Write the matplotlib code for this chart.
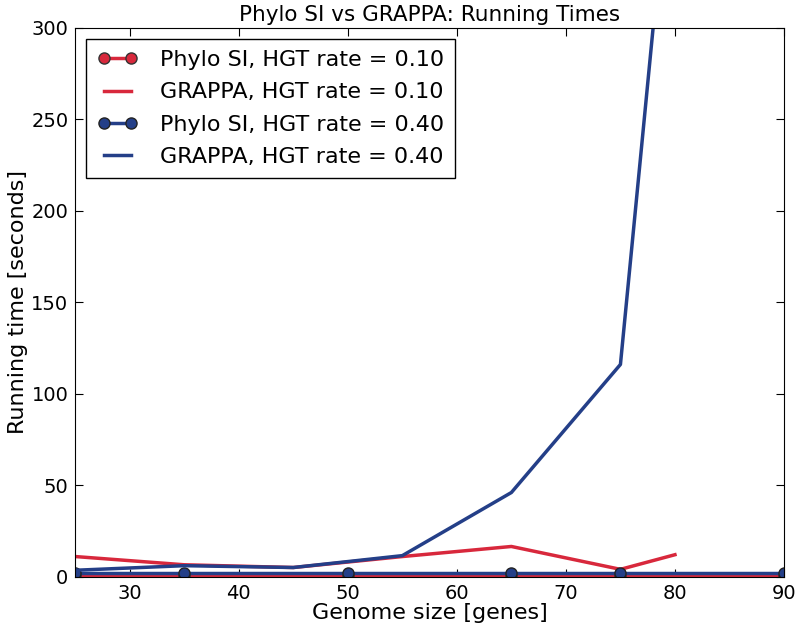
import matplotlib
matplotlib.use("Agg")
import matplotlib.pyplot as plt

RED = "#d8283c"
BLUE = "#243f88"

# Phylo SI running times (seconds)
phylo_x = [25, 35, 50, 65, 75, 90]
phylo_010 = [1.0, 1.0, 1.0, 1.0, 1.0, 1.0]
phylo_040 = [2.0, 2.0, 2.0, 2.0, 2.0, 2.0]

# GRAPPA running times (seconds)
grappa_x_010 = [25, 35, 45, 55, 65, 75, 80]
grappa_010 = [11.0, 6.5, 5.0, 11.0, 16.5, 4.0, 12.0]
grappa_x_040 = [25, 35, 45, 55, 65, 75, 85]
grappa_040 = [3.5, 6.0, 5.0, 11.5, 46.0, 116.0, 730.0]

labels = ["Phylo SI, HGT rate = 0.10", "GRAPPA, HGT rate = 0.10",
          "Phylo SI, HGT rate = 0.40", "GRAPPA, HGT rate = 0.40"]

plt.rcParams["font.family"] = "DejaVu Sans"
plt.rcParams["xtick.direction"] = "in"
plt.rcParams["ytick.direction"] = "in"
plt.rcParams["xtick.top"] = True
plt.rcParams["ytick.right"] = True

fig = plt.figure(figsize=(8, 6.33), dpi=100)
ax = fig.add_axes([0.094, 0.089, 0.886, 0.867])

ax.plot(phylo_x, phylo_010, "-o", color=RED, lw=2.5, ms=8, mec="#333333", label=labels[0])
ax.plot(grappa_x_010, grappa_010, "-", color=RED, lw=2.5, label=labels[1])
ax.plot(phylo_x, phylo_040, "-o", color=BLUE, lw=2.5, ms=8, mec="#222222", label=labels[2])
ax.plot(grappa_x_040, grappa_040, "-", color=BLUE, lw=2.5, label=labels[3])

ax.set_xlim(25, 90)
ax.set_ylim(0, 300)
ax.set_xticks([30, 40, 50, 60, 70, 80, 90])
ax.set_yticks([0, 50, 100, 150, 200, 250, 300])
ax.tick_params(labelsize=14, length=6, width=0.8, pad=5)
ax.set_title("Phylo SI vs GRAPPA: Running Times", fontsize=15.5, pad=5)
ax.set_xlabel("Genome size [genes]", fontsize=16, labelpad=0)
ax.set_ylabel("Running time [seconds]", fontsize=16, labelpad=2)

leg = ax.legend(loc="upper left", numpoints=2, fontsize=16, fancybox=False,
                framealpha=1, edgecolor="black", handlelength=1.8,
                handletextpad=1.0, borderaxespad=0.5, labelspacing=0.55,
                borderpad=0.5)
leg.get_frame().set_linewidth(1.0)

fig.savefig("out.png", dpi=100)
